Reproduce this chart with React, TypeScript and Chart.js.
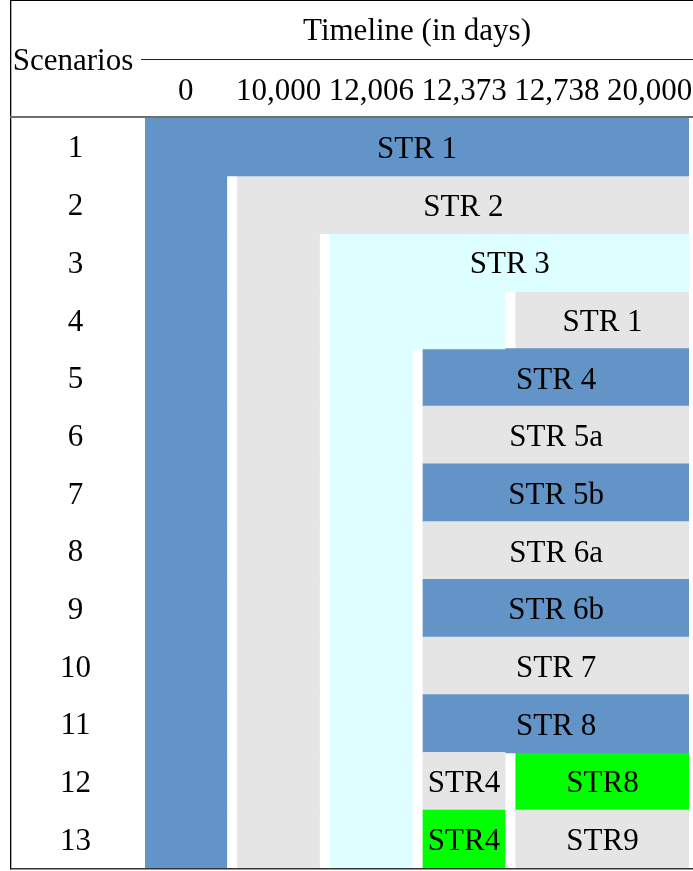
import React, { useEffect, useRef } from 'react';
import { Chart, registerables } from 'chart.js';

Chart.register(...registerables);

// ---------- data ----------
const scenarios = ['1', '2', '3', '4', '5', '6', '7', '8', '9', '10', '11', '12', '13'];
const timelineTicks = ['0', '10,000', '12,006', '12,373', '12,738', '20,000'];

// Spans are [start column, end column] on the timeline grid (column 6 = end of timeline); null = no block
type Span = [number, number] | null;

const str1Spans: Span[] = [[0, 6], [0, 1], [0, 1], [0, 1], [0, 1], [0, 1], [0, 1], [0, 1], [0, 1], [0, 1], [0, 1], [0, 1], [0, 1]];
const str1Labels = ['STR 1', '', '', '', '', '', '', '', '', '', '', '', ''];

const str2Spans: Span[] = [null, [1, 6], [1, 2], [1, 2], [1, 2], [1, 2], [1, 2], [1, 2], [1, 2], [1, 2], [1, 2], [1, 2], [1, 2]];
const str2Labels = ['', 'STR 2', '', '', '', '', '', '', '', '', '', '', ''];

const str3Spans: Span[] = [null, null, [2, 6], [2, 4], [2, 3], [2, 3], [2, 3], [2, 3], [2, 3], [2, 3], [2, 3], [2, 3], [2, 3]];
const str3Labels = ['', '', 'STR 3', '', '', '', '', '', '', '', '', '', ''];

const laterSpans: Span[] = [null, null, null, [4, 6], [3, 6], [3, 6], [3, 6], [3, 6], [3, 6], [3, 6], [3, 6], [3, 4], [3, 4]];
const laterLabels = ['', '', '', 'STR 1', 'STR 4', 'STR 5a', 'STR 5b', 'STR 6a', 'STR 6b', 'STR 7', 'STR 8', 'STR4', 'STR4'];
const laterShades = ['', '', '', 'gray', 'blue', 'gray', 'blue', 'gray', 'blue', 'gray', 'blue', 'gray', 'green'];

const finalSpans: Span[] = [null, null, null, null, null, null, null, null, null, null, null, [4, 6], [4, 6]];
const finalLabels = ['', '', '', '', '', '', '', '', '', '', '', 'STR8', 'STR9'];
const finalShades = ['', '', '', '', '', '', '', '', '', '', '', 'green', 'gray'];

// ---------- style ----------
const PALETTE: Record<string, string> = {
  blue: '#6294C7',
  gray: '#E5E5E5',
  cyan: '#DEFFFF',
  green: '#00FF00',
  '': 'rgba(0,0,0,0)',
};
const INFLATE = 0.6; // px, hides seams between stacked rows
const GAP = 0.108 + (2 * INFLATE) / 92.75; // white gap before a new column block (column units)
const X_END = 5.865; // right edge of the timeline (column units)
const FAMILY = '"Liberation Serif", "Times New Roman", serif';
const SIZE = 31;

const toBar = (s: Span) => (s ? [s[0], s[1] >= 6 ? X_END : s[1] - GAP] : null);

const tablePlugin = {
  id: 'tableDecor',
  afterDatasetsDraw(chart: any) {
    const ctx = chart.ctx;
    ctx.save();
    ctx.font = `${SIZE}px ${FAMILY}`;
    ctx.fillStyle = '#000';
    ctx.textAlign = 'center';
    ctx.textBaseline = 'alphabetic';
    chart.data.datasets.forEach((ds: any, di: number) => {
      const meta = chart.getDatasetMeta(di);
      meta.data.forEach((bar: any, i: number) => {
        const text = ds.cellLabels[i];
        if (!text) return;
        const { x, base, y } = bar.getProps(['x', 'base', 'y'], true);
        ctx.fillText(text, (x + base) / 2, y + 11);
      });
    });
    ctx.restore();
  },
  afterDraw(chart: any) {
    const ctx = chart.ctx;
    const W = chart.width;
    const { top, bottom } = chart.chartArea;
    ctx.save();
    // outer frame
    ctx.fillStyle = '#000';
    ctx.fillRect(10, 0, W - 10, 1);
    ctx.fillRect(10, 0, 1.3, bottom + 1.5);
    // rule under the "Timeline" title
    ctx.fillStyle = '#222';
    ctx.fillRect(141, 59, W - 141, 1);
    // header rule
    ctx.fillStyle = '#6e6e6e';
    ctx.fillRect(10, top - 2, W - 10, 2);
    // bottom rule
    ctx.fillStyle = '#333';
    ctx.fillRect(10, bottom, W - 10, 1.5);
    // "Scenarios" column header
    ctx.fillStyle = '#000';
    ctx.font = `${SIZE}px ${FAMILY}`;
    ctx.textAlign = 'center';
    ctx.textBaseline = 'alphabetic';
    ctx.fillText('Scenarios', 73, 70);
    ctx.restore();
  },
};

export default function App() {
  const ref = useRef<HTMLCanvasElement | null>(null);

  useEffect(() => {
    if (!ref.current) return;
    const mk = (spans: Span[], labels: string[], colors: string | string[]) => ({
      data: spans.map(toBar),
      cellLabels: labels,
      backgroundColor: colors,
      borderWidth: 0,
      inflateAmount: INFLATE,
      grouped: false,
      barPercentage: 1,
      categoryPercentage: 1,
    });
    const chart = new Chart(ref.current, {
      type: 'bar',
      data: {
        labels: scenarios,
        datasets: [
          mk(str1Spans, str1Labels, PALETTE.blue),
          mk(str2Spans, str2Labels, PALETTE.gray),
          mk(str3Spans, str3Labels, PALETTE.cyan),
          mk(laterSpans, laterLabels, laterShades.map((s) => PALETTE[s])),
          mk(finalSpans, finalLabels, finalShades.map((s) => PALETTE[s])),
        ] as any,
      },
      options: {
        indexAxis: 'y',
        animation: false,
        responsive: false,
        events: [],
        layout: { padding: { left: 11, right: 4, top: 0, bottom: 3 } },
        plugins: {
          legend: { display: false },
          tooltip: { enabled: false },
        },
        scales: {
          x: {
            type: 'linear',
            position: 'top',
            min: 0,
            max: X_END,
            bounds: 'data',
            grid: { display: false, drawTicks: false },
            border: { display: false },
            ticks: {
              font: { family: FAMILY, size: SIZE },
              color: '#000',
              padding: 8,
              autoSkip: false,
              maxRotation: 0,
              callback: (_v: any, i: number) => timelineTicks[i] ?? '',
            },
            afterBuildTicks: (s: any) => {
              s.ticks = timelineTicks.map((_, k) => ({ value: k + (1 - GAP) / 2 }));
            },
            afterFit: (s: any) => {
              s.height = 118;
              s.paddingLeft = 0;
              s.paddingRight = 0;
            },
            title: {
              display: true,
              text: 'Timeline (in days)',
              font: { family: FAMILY, size: SIZE },
              color: '#000',
              padding: { top: 13.5, bottom: 0 },
            },
          },
          y: {
            type: 'category',
            grid: { display: false, drawTicks: false },
            border: { display: false },
            ticks: {
              font: { family: FAMILY, size: SIZE },
              color: '#000',
              padding: 54,
              crossAlign: 'center',
              labelOffset: 2.5,
              autoSkip: false,
            },
            afterFit: (s: any) => {
              s.width = 134;
              s.paddingTop = 0;
              s.paddingBottom = 0;
            },
          },
        },
      } as any,
      plugins: [tablePlugin],
    });
    return () => chart.destroy();
  }, []);

  return (
    <div style={{ position: 'absolute', left: 0, top: 0, width: 693, height: 871 }}>
      <canvas ref={ref} width={693} height={871} style={{ display: 'block' }} />
    </div>
  );
}
